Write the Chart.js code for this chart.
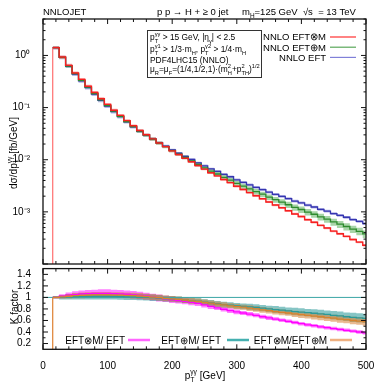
<!DOCTYPE html>
<html>
<head>
<meta charset="utf-8">
<script src="https://cdn.jsdelivr.net/npm/chart.js@4"></script>
<style>
  html, body { margin: 0; padding: 0; background: #fff; }
  #wrap { position: relative; width: 382px; height: 382px; }
  canvas { position: absolute; left: 0; }
  #topChart { top: 0; }
  #ratioChart { top: 266px; }
</style>
</head>
<body>
<div id="wrap">
  <canvas id="topChart" width="382" height="266" style="width:382px;height:266px"></canvas>
  <canvas id="ratioChart" width="382" height="116" style="width:382px;height:116px"></canvas>
</div>
<script>
// bin edges in pT(γγ) [GeV]
const binEdges = [15, 25, 35, 45, 55, 65, 75, 85, 95, 105, 115, 125, 135, 145, 155, 165, 175, 185, 195,
  205, 215, 225, 235, 245, 255, 265, 275, 285, 295, 305, 315, 325, 335, 345, 355, 365, 375, 385, 395,
  405, 415, 425, 435, 445, 455, 465, 475, 485, 495, 500];

// dσ/dpT [fb/GeV]
const eftMult = [1.41, 0.933, 0.646, 0.462, 0.347, 0.257, 0.195, 0.148, 0.115, 0.0891, 0.0708, 0.0562,
  0.0447, 0.0363, 0.0302, 0.0251, 0.0209, 0.0178, 0.0148, 0.0126, 0.0107, 0.00912, 0.00776, 0.00661,
  0.00562, 0.00490, 0.00417, 0.00363, 0.00309, 0.00269, 0.00234, 0.00204, 0.00178, 0.00155, 0.00135,
  0.00120, 0.00105, 0.000912, 0.000813, 0.000708, 0.000631, 0.000550, 0.000490, 0.000427, 0.000380,
  0.000339, 0.000295, 0.000263, 0.000229];
const eftAdd = [1.41, 0.915, 0.627, 0.447, 0.334, 0.246, 0.186, 0.141, 0.109, 0.0854, 0.0678, 0.0538,
  0.0432, 0.0353, 0.0296, 0.0249, 0.0209, 0.0179, 0.0150, 0.0128, 0.0111, 0.00954, 0.00811, 0.00699,
  0.00602, 0.00532, 0.00459, 0.00407, 0.00352, 0.00311, 0.00276, 0.00244, 0.00218, 0.00192, 0.00171,
  0.00154, 0.00137, 0.00122, 0.00111, 0.000992, 0.000899, 0.000801, 0.000726, 0.000640, 0.000581,
  0.000524, 0.000466, 0.000424, 0.000378];
const eftOnly = [1.41, 0.915, 0.621, 0.440, 0.327, 0.241, 0.182, 0.138, 0.107, 0.0837, 0.0668, 0.0533,
  0.0428, 0.0351, 0.0296, 0.0250, 0.0211, 0.0183, 0.0154, 0.0133, 0.0116, 0.0101, 0.00867, 0.00760,
  0.00665, 0.00598, 0.00525, 0.00471, 0.00412, 0.00368, 0.00330, 0.00296, 0.00268, 0.00240, 0.00216,
  0.00198, 0.00179, 0.00161, 0.00149, 0.00135, 0.00124, 0.00112, 0.00103, 0.000928, 0.000854,
  0.000788, 0.000711, 0.000658, 0.000595];

// relative scale-band half widths
const eftMultUnc = [0.07, 0.07, 0.07, 0.07, 0.07, 0.07, 0.07, 0.07, 0.07, 0.065, 0.065, 0.06, 0.06, 0.06,
  0.06, 0.06, 0.055, 0.055, 0.055, 0.055, 0.05, 0.05, 0.05, 0.05, 0.05, 0.05, 0.05, 0.05, 0.05, 0.05,
  0.05, 0.05, 0.05, 0.05, 0.05, 0.05, 0.05, 0.05, 0.05, 0.05, 0.05, 0.05, 0.05, 0.05, 0.05, 0.05, 0.05,
  0.05, 0.05];
const eftAddUnc = [0.06, 0.06, 0.06, 0.06, 0.06, 0.06, 0.06, 0.06, 0.06, 0.06, 0.06, 0.06, 0.06, 0.065,
  0.065, 0.07, 0.07, 0.075, 0.075, 0.08, 0.08, 0.085, 0.09, 0.09, 0.095, 0.1, 0.1, 0.105, 0.11, 0.11,
  0.115, 0.12, 0.12, 0.125, 0.13, 0.13, 0.135, 0.14, 0.14, 0.145, 0.145, 0.15, 0.15, 0.155, 0.155, 0.16,
  0.16, 0.165, 0.165];
const eftOnlyUnc = [0.08, 0.08, 0.08, 0.08, 0.08, 0.08, 0.08, 0.08, 0.08, 0.075, 0.075, 0.07, 0.07, 0.07,
  0.065, 0.065, 0.065, 0.06, 0.06, 0.06, 0.06, 0.06, 0.06, 0.06, 0.06, 0.06, 0.06, 0.06, 0.06, 0.06,
  0.06, 0.06, 0.06, 0.06, 0.06, 0.06, 0.06, 0.06, 0.06, 0.06, 0.06, 0.06, 0.06, 0.06, 0.06, 0.06, 0.06,
  0.06, 0.06];

// K factors
const kMultOverEft = [1.00, 1.02, 1.04, 1.05, 1.06, 1.065, 1.07, 1.07, 1.07, 1.065, 1.06, 1.055, 1.045,
  1.035, 1.02, 1.005, 0.99, 0.975, 0.96, 0.945, 0.93, 0.915, 0.895, 0.87, 0.845, 0.82, 0.795, 0.77, 0.75,
  0.73, 0.71, 0.69, 0.665, 0.645, 0.625, 0.605, 0.585, 0.565, 0.545, 0.525, 0.51, 0.49, 0.475, 0.46,
  0.445, 0.43, 0.415, 0.40, 0.385];
const kAddOverEft = [1.0, 1.0, 1.01, 1.015, 1.02, 1.02, 1.02, 1.02, 1.02, 1.02, 1.015, 1.01, 1.01, 1.005,
  1.0, 0.995, 0.99, 0.98, 0.975, 0.965, 0.955, 0.945, 0.935, 0.92, 0.905, 0.89, 0.875, 0.865, 0.855,
  0.845, 0.835, 0.825, 0.815, 0.80, 0.79, 0.78, 0.765, 0.755, 0.745, 0.735, 0.725, 0.715, 0.705, 0.69,
  0.68, 0.665, 0.655, 0.645, 0.635];
const kMultOverAdd = [1.0, 1.01, 1.02, 1.03, 1.035, 1.04, 1.045, 1.045, 1.045, 1.04, 1.04, 1.035, 1.03,
  1.025, 1.015, 1.005, 0.995, 0.985, 0.975, 0.965, 0.955, 0.94, 0.93, 0.915, 0.90, 0.885, 0.87, 0.855,
  0.84, 0.83, 0.815, 0.80, 0.785, 0.77, 0.755, 0.74, 0.73, 0.715, 0.70, 0.69, 0.675, 0.665, 0.65, 0.64,
  0.625, 0.615, 0.60, 0.59, 0.58];

// K factor band half widths (absolute)
const kMultOverEftUnc = [0.02, 0.035, 0.045, 0.055, 0.06, 0.065, 0.065, 0.07, 0.07, 0.07, 0.07, 0.065,
  0.065, 0.065, 0.06, 0.06, 0.06, 0.055, 0.055, 0.05, 0.05, 0.05, 0.045, 0.045, 0.045, 0.04, 0.04, 0.04,
  0.04, 0.035, 0.035, 0.035, 0.035, 0.035, 0.03, 0.03, 0.03, 0.03, 0.03, 0.03, 0.03, 0.03, 0.03, 0.03,
  0.03, 0.03, 0.03, 0.03, 0.03];
const kAddOverEftUnc = [0.02, 0.035, 0.045, 0.05, 0.055, 0.055, 0.055, 0.055, 0.055, 0.055, 0.055, 0.055,
  0.055, 0.055, 0.055, 0.055, 0.05, 0.05, 0.05, 0.05, 0.05, 0.05, 0.05, 0.05, 0.05, 0.05, 0.05, 0.05,
  0.05, 0.05, 0.055, 0.055, 0.055, 0.055, 0.06, 0.06, 0.06, 0.065, 0.065, 0.065, 0.07, 0.07, 0.07, 0.075,
  0.075, 0.075, 0.08, 0.08, 0.08];
const kMultOverAddUnc = [0.02, 0.03, 0.04, 0.045, 0.05, 0.05, 0.05, 0.05, 0.05, 0.05, 0.05, 0.05, 0.05,
  0.05, 0.05, 0.05, 0.05, 0.05, 0.05, 0.05, 0.05, 0.05, 0.05, 0.05, 0.045, 0.045, 0.045, 0.045, 0.045,
  0.045, 0.05, 0.05, 0.05, 0.05, 0.05, 0.05, 0.05, 0.055, 0.055, 0.055, 0.06, 0.06, 0.06, 0.06, 0.065,
  0.065, 0.065, 0.065, 0.07];

// axis ticks
const xTickValues = [0, 100, 200, 300, 400, 500];
const topTickValues = [1, 0.1, 0.01, 0.001];
const topTickLabels = ['10⁰', '10⁻¹', '10⁻²', '10⁻³'];
const kTickValues = [0.2, 0.4, 0.6, 0.8, 1, 1.2, 1.4];

const FONT = '"Liberation Sans", Arial, Helvetica, sans-serif';
Chart.defaults.font.family = FONT;
Chart.defaults.color = '#000';

// histogram as stepped points: left edges, plus closing point at last edge
function stepPoints(vals) {
    const pts = vals.map((v, i) => ({ x: binEdges[i], y: v }));
    pts.push({ x: binEdges[binEdges.length - 1], y: vals[vals.length - 1] });
    return pts;
}

function bandSets(vals, unc, rel, color, order) {
    const up = vals.map((v, i) => rel ? v * (1 + unc[i]) : v + unc[i]);
    const lo = vals.map((v, i) => rel ? v * (1 - unc[i]) : v - unc[i]);
    return [
        { data: stepPoints(up), stepped: true, pointRadius: 0, borderWidth: 0,
          borderColor: 'rgba(0,0,0,0)', backgroundColor: color, fill: '+1', order: order },
        { data: stepPoints(lo), stepped: true, pointRadius: 0, borderWidth: 0,
          borderColor: 'rgba(0,0,0,0)', fill: false, order: order }
    ];
}

function lineSet(vals, color, order, width) {
    return { data: stepPoints(vals), stepped: true, pointRadius: 0, borderWidth: width || 1.3,
        borderColor: color, fill: false, order: order };
}

// text with sub/superscripts; parts = [text, kind], kind: n | sub | sup | ss ([sub, sup])
function drawRich(ctx, parts, x, y, size, align) {
    const small = size * 0.68;
    const widths = parts.map(([t, k]) => {
        if (k === 'ss') {
            ctx.font = small + 'px ' + FONT;
            return Math.max(ctx.measureText(t[0]).width, ctx.measureText(t[1]).width);
        }
        ctx.font = (k === 'n' ? size : small) + 'px ' + FONT;
        return ctx.measureText(t).width;
    });
    const total = widths.reduce((a, b) => a + b, 0);
    let cx = align === 'center' ? x - total / 2 : (align === 'right' ? x - total : x);
    ctx.textAlign = 'left';
    ctx.textBaseline = 'alphabetic';
    parts.forEach(([t, k], i) => {
        if (k === 'n') {
            ctx.font = size + 'px ' + FONT;
            ctx.fillText(t, cx, y);
        } else {
            ctx.font = small + 'px ' + FONT;
            if (k === 'sub') ctx.fillText(t, cx, y + size * 0.3);
            else if (k === 'sup') ctx.fillText(t, cx, y - size * 0.42);
            else {
                ctx.fillText(t[0], cx, y + size * 0.3);
                ctx.fillText(t[1], cx, y - size * 0.42);
            }
        }
        cx += widths[i];
    });
}

function tick(ctx, x1, y1, x2, y2) {
    ctx.beginPath();
    ctx.moveTo(x1, y1);
    ctx.lineTo(x2, y2);
    ctx.stroke();
}

// gnuplot-like frame with inward ticks
function drawFrame(chart, yTicks) {
    const { ctx, chartArea: a, scales: { x, y } } = chart;
    ctx.save();
    ctx.strokeStyle = '#111';
    ctx.lineWidth = 1;
    for (let v = 0; v <= 500; v += 20) {
        const px = x.getPixelForValue(v);
        const len = v % 100 === 0 ? 5 : 3;
        tick(ctx, px, a.bottom, px, a.bottom - len);
        tick(ctx, px, a.top, px, a.top + len);
    }
    yTicks.forEach(([v, len]) => {
        const py = y.getPixelForValue(v);
        tick(ctx, a.left, py, a.left + len, py);
        tick(ctx, a.right, py, a.right - len, py);
    });
    ctx.lineWidth = 1.3;
    ctx.strokeRect(a.left, a.top, a.right - a.left, a.bottom - a.top);
    ctx.restore();
}

// keep the plot frame where it is: no extra room for half tick labels
function fixY(s) {
    s.width = 43;
    s.paddingTop = 0;
    s.paddingBottom = 0;
}

const pT = [['p', 'n'], [['T', 'γγ'], 'ss']];

const topDecor = {
    id: 'topDecor',
    afterDraw(chart) {
        const ctx = chart.ctx;
        const logTicks = [];
        for (let d = -4; d <= 0; d++) {
            for (let m = 1; m <= 9; m++) {
                const v = m * Math.pow(10, d);
                if (v <= 5) logTicks.push([v, m === 1 ? 5 : 2.5]);
            }
        }
        drawFrame(chart, logTicks);

        ctx.save();
        ctx.fillStyle = '#000';
        drawRich(ctx, [['NNLOJET', 'n']], 43, 15, 9.5, 'left');
        drawRich(ctx, [['p p → H + ≥ 0 jet', 'n']], 157, 15, 9.5, 'left');
        drawRich(ctx, [['m', 'n'], ['H', 'sub'], ['=125 GeV  √s  = 13 TeV', 'n']], 242, 15, 9.5, 'left');

        // cuts box
        ctx.strokeStyle = '#333';
        ctx.lineWidth = 1;
        ctx.strokeRect(147.5, 30.5, 114, 47);
        const fs = 8.4;
        drawRich(ctx, pT.concat([[' > 15 GeV, |η', 'n'], ['γ', 'sub'], ['| < 2.5', 'n']]), 150, 40, fs, 'left');
        drawRich(ctx, [['p', 'n'], [['T', 'γ1'], 'ss'], [' > 1/3·m', 'n'], ['H', 'sub'], [', p', 'n'],
            [['T', 'γ2'], 'ss'], [' > 1/4·m', 'n'], ['H', 'sub']], 150, 52, fs, 'left');
        drawRich(ctx, [['PDF4LHC15 (NNLO)', 'n']], 150, 62.5, fs, 'left');
        drawRich(ctx, [['μ', 'n'], ['R', 'sub'], ['=μ', 'n'], ['F', 'sub'], ['=(1/4,1/2,1)·(m', 'n'],
            [['H', '2'], 'ss'], ['+p', 'n'], [['TH', '2'], 'ss'], [')', 'n'], ['1/2', 'sup']], 150, 72, fs, 'left');

        // legend
        const leg = [['NNLO EFT⊗M', '#ff3030'], ['NNLO EFT⊕M', '#5aa85a'], ['NNLO EFT', '#8080d8']];
        leg.forEach(([label, color], i) => {
            const yy = 37 + i * 10.2;
            drawRich(ctx, [[label, 'n']], 326, yy + 3.4, 9.5, 'right');
            ctx.strokeStyle = color;
            ctx.lineWidth = 1.2;
            tick(ctx, 330, yy, 356, yy);
        });

        // y title
        ctx.translate(13, 153);
        ctx.rotate(-Math.PI / 2);
        drawRich(ctx, [['dσ/dp', 'n'], [['T', 'γγ'], 'ss'], [' [fb/GeV]', 'n']], 0, 3.5, 10, 'center');
        ctx.restore();
    }
};

const ratioDecor = {
    id: 'ratioDecor',
    afterDraw(chart) {
        const ctx = chart.ctx;
        const kTicks = [];
        for (let v = 0.2; v <= 1.41; v += 0.1) kTicks.push([v, Math.round(v * 10) % 2 === 0 ? 5 : 2.5]);
        drawFrame(chart, kTicks);

        ctx.save();
        ctx.fillStyle = '#000';
        const leg = [['EFT⊗M/ EFT', 125, '#ff66ff', 128], ['EFT⊕M/ EFT', 221, '#45b0b0', 227],
            ['EFT⊗M/EFT⊕M', 327, '#efb080', 330]];
        leg.forEach(([label, xr, color, x0]) => {
            drawRich(ctx, [[label, 'n']], xr, 77.5, 10, 'right');
            ctx.strokeStyle = color;
            ctx.lineWidth = 2.5;
            tick(ctx, x0, 74, x0 + 22, 74);
        });
        drawRich(ctx, pT.concat([[' [GeV]', 'n']]), 205, 112.5, 10, 'center');
        ctx.translate(14, 41);
        ctx.rotate(-Math.PI / 2);
        drawRich(ctx, [['K factor', 'n']], 0, 3.5, 10, 'center');
        ctx.restore();
    }
};

const commonOpts = {
    responsive: false,
    animation: false,
    events: [],
    plugins: { legend: { display: false }, tooltip: { enabled: false } }
};

new Chart(document.getElementById('topChart'), {
    type: 'line',
    data: {
        datasets: [
            lineSet(eftMult, '#f52020', 0, 1.4),
            lineSet(eftAdd, '#2e8b2e', 1),
            lineSet(eftOnly, '#3535b0', 2),
            { data: [{ x: binEdges[0], y: 1e-4 }, { x: binEdges[0], y: eftMult[0] }], pointRadius: 0,
              borderColor: '#ff7a7a', borderWidth: 1.3, fill: false, order: 3 },
            ...bandSets(eftMult, eftMultUnc, true, 'rgba(255,110,110,0.6)', 4),
            ...bandSets(eftAdd, eftAddUnc, true, 'rgba(110,185,110,0.6)', 5),
            ...bandSets(eftOnly, eftOnlyUnc, true, 'rgba(130,130,215,0.6)', 6)
        ]
    },
    options: {
        ...commonOpts,
        layout: { padding: { top: 19, right: 16, bottom: 2, left: 0 } },
        scales: {
            x: { type: 'linear', min: 0, max: 500, display: false },
            y: {
                type: 'logarithmic', min: 1e-4, max: 5,
                afterFit: fixY,
                afterBuildTicks: s => { s.ticks = topTickValues.map(v => ({ value: v })); },
                grid: { display: false },
                border: { display: false },
                ticks: {
                    padding: 5,
                    autoSkip: false,
                    font: { size: 10 },
                    callback: v => {
                        const i = topTickValues.indexOf(v);
                        return i >= 0 ? topTickLabels[i] : '';
                    }
                }
            }
        }
    },
    plugins: [topDecor]
});

new Chart(document.getElementById('ratioChart'), {
    type: 'line',
    data: {
        datasets: [
            lineSet(kMultOverAdd, '#d8822e', 0, 1.3),
            lineSet(kAddOverEft, '#2a9a9a', 1, 1.3),
            lineSet(kMultOverEft, '#ff00ff', 2, 1.3),
            { data: [{ x: 0, y: 1 }, { x: 500, y: 1 }], pointRadius: 0, borderColor: '#3aa5a5',
              borderWidth: 1, fill: false, order: 3 },
            { data: [{ x: binEdges[0], y: 0.1 }, { x: binEdges[0], y: kMultOverAdd[0] }], pointRadius: 0,
              borderColor: '#e08a40', borderWidth: 1.3, fill: false, order: 3 },
            ...bandSets(kMultOverAdd, kMultOverAddUnc, false, 'rgba(215,130,55,0.55)', 4),
            ...bandSets(kAddOverEft, kAddOverEftUnc, false, 'rgba(35,150,150,0.55)', 5),
            ...bandSets(kMultOverEft, kMultOverEftUnc, false, 'rgba(255,40,255,0.6)', 6)
        ]
    },
    options: {
        ...commonOpts,
        layout: { padding: { top: 2.6, right: 16, bottom: 0, left: 0 } },
        scales: {
            x: {
                type: 'linear', min: 0, max: 500,
                afterFit: s => { s.height = 32.7; s.paddingLeft = 0; s.paddingRight = 0; },
                afterBuildTicks: s => { s.ticks = xTickValues.map(v => ({ value: v })); },
                grid: { display: false },
                border: { display: false },
                ticks: { padding: 3, font: { size: 10 }, maxRotation: 0, autoSkip: false }
            },
            y: {
                type: 'linear', min: 0.1, max: 1.5,
                afterFit: fixY,
                afterBuildTicks: s => { s.ticks = kTickValues.map(v => ({ value: v })); },
                grid: { display: false },
                border: { display: false },
                ticks: { padding: 4, autoSkip: false, font: { size: 10 }, callback: v => String(v) }
            }
        }
    },
    plugins: [ratioDecor]
});
</script>
</body>
</html>
